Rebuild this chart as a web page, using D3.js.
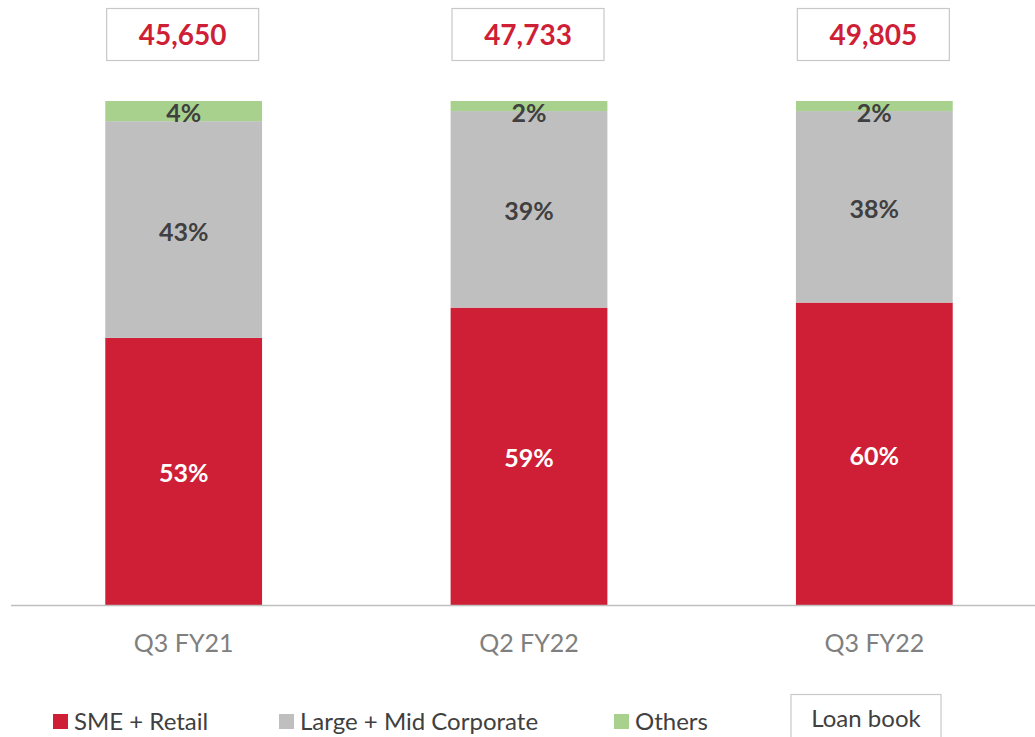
<!DOCTYPE html>
<html>
<head>
<meta charset="utf-8">
<script src="https://cdn.jsdelivr.net/npm/d3@7"></script>
<style>
  body { margin: 0; background: #fff; }
  svg { display: block; font-family: Lato, 'Open Sans', sans-serif; }
</style>
</head>
<body>
<svg></svg>
<script>
const width = 1035,
    height = 737

// data
const quarters = ['Q3 FY21', 'Q2 FY22', 'Q3 FY22']
const totals = ['45,650', '47,733', '49,805']
const smeRetail = [53, 59, 60]
const largeMid = [43, 39, 38]
const others = [4, 2, 2]
const seriesNames = ['SME + Retail', 'Large + Mid Corporate', 'Others']

const colors = ['#CE1F37', '#BFBFBF', '#A9D18E']
const labelColors = ['#fff', '#404040', '#404040']

const rows = quarters.map((q, i) => ({
    q,
    'SME + Retail': smeRetail[i],
    'Large + Mid Corporate': largeMid[i],
    Others: others[i],
}))
const stacked = d3.stack().keys(seriesNames)(rows)

const svg = d3.select('svg').attr('width', width).attr('height', height)

const x = d3
    .scaleBand()
    .domain(quarters)
    .range([11, 1047])
    .paddingInner(0.546)
    .paddingOuter(0.273)
const y = d3.scaleLinear().domain([0, 100]).range([605, 101])

const layers = svg
    .append('g')
    .selectAll('g')
    .data(stacked)
    .join('g')
    .attr('fill', (d, i) => colors[i])

layers
    .selectAll('rect')
    .data((d) => d)
    .join('rect')
    .attr('x', (d) => x(d.data.q))
    .attr('y', (d) => y(d[1]))
    .attr('width', x.bandwidth())
    .attr('height', (d) => y(d[0]) - y(d[1]))

// segment labels
layers.each(function (s, si) {
    d3.select(this)
        .selectAll('text')
        .data(s)
        .join('text')
        .attr('x', (d) => x(d.data.q) + x.bandwidth() / 2)
        .attr('y', (d) => {
            const mid = (y(d[0]) + y(d[1])) / 2
            return si === 2 ? y(d[1]) + 21 : mid + 11
        })
        .attr('text-anchor', 'middle')
        .attr('font-size', 25)
        .attr('font-weight', 'bold')
        .attr('fill', labelColors[si])
        .text((d) => d[1] - d[0] + '%')
})

// baseline
svg.append('line')
    .attr('x1', 11)
    .attr('x2', width)
    .attr('y1', 605.5)
    .attr('y2', 605.5)
    .attr('stroke', '#BFBFBF')
    .attr('stroke-width', 1.5)

// category labels
svg.append('g')
    .selectAll('text')
    .data(quarters)
    .join('text')
    .attr('x', (d) => x(d) + x.bandwidth() / 2)
    .attr('y', 652)
    .attr('text-anchor', 'middle')
    .attr('font-size', 25)
    .attr('fill', '#7F7F7F')
    .text((d) => d)

// total boxes
const tot = svg
    .append('g')
    .selectAll('g')
    .data(quarters)
    .join('g')
    .attr('transform', (d) => `translate(${x(d) + x.bandwidth() / 2 - 1},0)`)
tot.append('rect')
    .attr('x', -76)
    .attr('y', 8.5)
    .attr('width', 152)
    .attr('height', 52)
    .attr('fill', '#fff')
    .attr('stroke', '#C8C8C8')
    .attr('stroke-width', 1.2)
tot.append('text')
    .attr('y', 45)
    .attr('text-anchor', 'middle')
    .attr('font-size', 28)
    .attr('font-weight', 'bold')
    .attr('fill', '#CE1F37')
    .text((d, i) => totals[i])

// legend
const legendX = [53, 279, 614]
const legend = svg
    .append('g')
    .selectAll('g')
    .data(seriesNames)
    .join('g')
    .attr('transform', (d, i) => `translate(${legendX[i]},714)`)
legend
    .append('rect')
    .attr('width', 15)
    .attr('height', 15)
    .attr('fill', (d, i) => colors[i])
legend
    .append('text')
    .attr('x', 21)
    .attr('y', 16)
    .attr('font-size', 24)
    .attr('fill', '#404040')
    .text((d) => d)

svg.append('rect')
    .attr('x', 791)
    .attr('y', 694.5)
    .attr('width', 150)
    .attr('height', 50)
    .attr('fill', 'none')
    .attr('stroke', '#C8C8C8')
    .attr('stroke-width', 1.2)
svg.append('text')
    .attr('x', 866)
    .attr('y', 727)
    .attr('text-anchor', 'middle')
    .attr('font-size', 24)
    .attr('fill', '#404040')
    .text('Loan book')
</script>
</body>
</html>
